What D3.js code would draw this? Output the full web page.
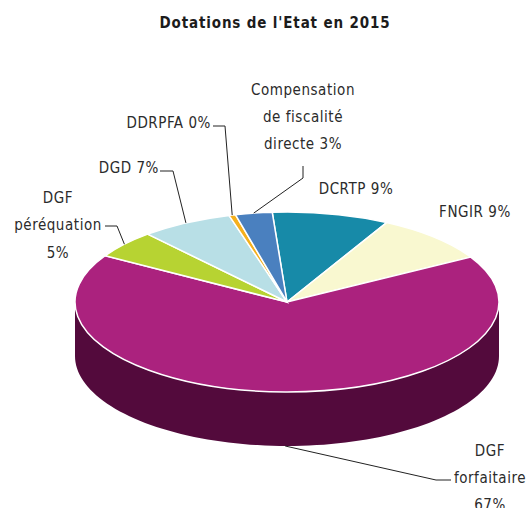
<!DOCTYPE html>
<html>
<head>
<meta charset="utf-8">
<script src="https://cdn.jsdelivr.net/npm/d3@7/dist/d3.min.js"></script>
<style>
	html, body { margin: 0; padding: 0; background: #fff; overflow: hidden; }
	text { font-family: "DejaVu Sans Condensed", "DejaVu Sans", sans-serif; font-stretch: condensed; font-size: 15px; fill: #2b2b2b; letter-spacing: 0.55px; }
	.title { font-weight: bold; font-size: 15px; fill: #1c1c1c; letter-spacing: 0.85px; }
	.slice { stroke: #fff; stroke-width: 1.5; vector-effect: non-scaling-stroke; }
	.leader { fill: none; stroke: #222; stroke-width: 1; }
</style>
</head>
<body>
<div id="chart"></div>
<script>
var title = "Dotations de l'Etat en 2015";
var categories = ["DCRTP", "FNGIR", "DGF forfaitaire", "DGF péréquation", "DGD", "DDRPFA", "Compensation de fiscalité directe"];
var values = [8.9, 8.9, 66.9, 5, 7, 0.5, 2.8];
var percentLabels = ["9%", "9%", "67%", "5%", "7%", "0%", "3%"];
var colors = ["#178aa8", "#f9f8d0", "#ab227e", "#b7d332", "#b8dfe6", "#f5b01c", "#4a80bf"];
var wallColor = "#530a3c";

var width = 531, height = 508;
var rx = 212, ry = 90, depth = 54;
var cx = 287, cy = 302;
var startDeg = -4;

var x = d3.scaleLinear().domain([-1, 1]).range([cx - rx, cx + rx]);
var y = d3.scaleLinear().domain([-1, 1]).range([cy - ry, cy + ry]);

var svg = d3.select("#chart").append("svg").attr("width", width).attr("height", height);

svg.append("text").attr("class", "title")
	.attr("x", 275).attr("y", 28).attr("text-anchor", "middle").text(title);

var pie = d3.pie().sort(null).value(function(d) { return d; })
	.startAngle(startDeg * Math.PI / 180)
	.endAngle((startDeg + 360) * Math.PI / 180);
var slices = pie(values);

function rimX(a) { return x(Math.sin(a)); }
function rimY(a) { return y(-Math.cos(a)); }

// side wall, only the front half of the rim shows
var wall = d3.area()
	.x(function(a) { return rimX(a); })
	.y0(function(a) { return rimY(a); })
	.y1(function(a) { return rimY(a) + depth; });

svg.append("path")
	.attr("d", wall(d3.range(90, 271, 2).map(function(deg) { return deg * Math.PI / 180; })))
	.attr("fill", wallColor);

var arc = d3.arc().innerRadius(0).outerRadius(rx);

svg.append("g")
	.attr("transform", "translate(" + cx + "," + cy + ") scale(1," + ry / rx + ")")
	.selectAll("path")
	.data(slices).enter()
	.append("path")
	.attr("class", "slice")
	.attr("d", arc)
	.attr("fill", function(d, i) { return colors[i]; });

// leaders start on the rim at the middle of each slice, then go through an elbow
var leaderElbows = {
	3: [[117, 226], [105, 226]],
	4: [[173, 171], [160, 171]],
	5: [[225, 126], [213, 126]],
	6: [[303, 178], [303, 166]],
	2: [[436, 480], [451, 480]]
};

var line = d3.line();
Object.keys(leaderElbows).forEach(function(k) {
	var s = slices[k];
	var mid = (s.startAngle + s.endAngle) / 2;
	var drop = k == 2 ? depth : 0;
	svg.append("path").attr("class", "leader")
		.attr("d", line([[rimX(mid), rimY(mid) + drop]].concat(leaderElbows[k])));
});

var labelRows = [
	["Compensation", 303, 95, "middle"],
	["de fiscalité", 303, 122, "middle"],
	["directe " + percentLabels[6], 303, 149, "middle"],
	[categories[5] + " " + percentLabels[5], 211, 128, "end"],
	[categories[4] + " " + percentLabels[4], 159, 173, "end"],
	["DGF", 58, 203, "middle"],
	["péréquation", 58, 230, "middle"],
	[percentLabels[3], 58, 258, "middle"],
	[categories[0] + " " + percentLabels[0], 356, 194, "middle"],
	[categories[1] + " " + percentLabels[1], 475, 217, "middle"],
	["DGF", 490, 456, "middle"],
	["forfaitaire", 490, 483, "middle"],
	[percentLabels[2], 490, 510, "middle"]
];

svg.selectAll("text.label")
	.data(labelRows).enter()
	.append("text").attr("class", "label")
	.attr("x", function(d) { return d[1]; })
	.attr("y", function(d) { return d[2]; })
	.attr("text-anchor", function(d) { return d[3]; })
	.text(function(d) { return d[0]; });
</script>
</body>
</html>
